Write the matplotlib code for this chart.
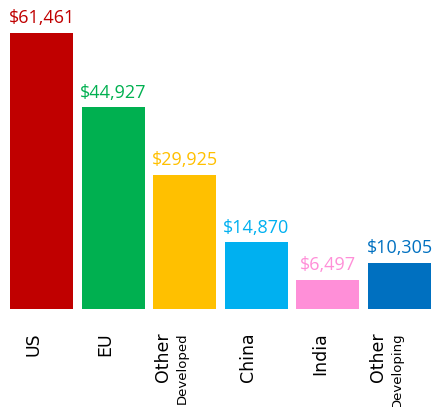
import matplotlib
matplotlib.use("Agg")
import matplotlib.pyplot as plt

# values per region
regions = ["US", "EU", "Other\nDeveloped", "China", "India", "Other\nDeveloping"]
values = [61461, 44927, 29925, 14870, 6497, 10305]
value_labels = ["$61,461", "$44,927", "$29,925", "$14,870", "$6,497", "$10,305"]
colors = ["#C00000", "#00B050", "#FFC000", "#00B0F0", "#FF8FD8", "#0070C0"]

fig = plt.figure(figsize=(4.36, 4.07), dpi=100)
W, H = 436, 407
# axes spans bar area: x 5.7..435.3 px, y 0..309 px from top
ax = fig.add_axes([5.7 / W, (H - 309) / H, (435.3 - 5.7) / W, 309 / H])

x = range(len(values))
ax.bar(x, values, width=0.88, color=colors)
ax.set_xlim(-0.5, len(values) - 0.5)
ax.set_ylim(0, 68820)
ax.axis("off")

for i, (v, lab, c) in enumerate(zip(values, value_labels, colors)):
    ax.annotate(lab, (i, v), xytext=(0, 4), textcoords="offset points",
                ha="center", va="bottom", color=c, fontsize=13, family="Open Sans")

# category labels below the bars, rotated
tr = ax.get_xaxis_transform()
for i, name in enumerate(regions):
    lines = name.split("\n")
    if len(lines) == 1:
        ax.text(i - 0.11, -0.075, name, transform=tr, rotation=90, ha="center",
                va="top", fontsize=12.5, family="DejaVu Sans", color="black")
    else:
        ax.text(i - 0.3, -0.075, lines[0], transform=tr, rotation=90, ha="center",
                va="top", fontsize=12.5, family="DejaVu Sans", color="black")
        ax.text(i - 0.03, -0.075, lines[1], transform=tr, rotation=90, ha="center",
                va="top", fontsize=9.5, family="DejaVu Sans", color="black")

fig.savefig("out.png", dpi=100)
